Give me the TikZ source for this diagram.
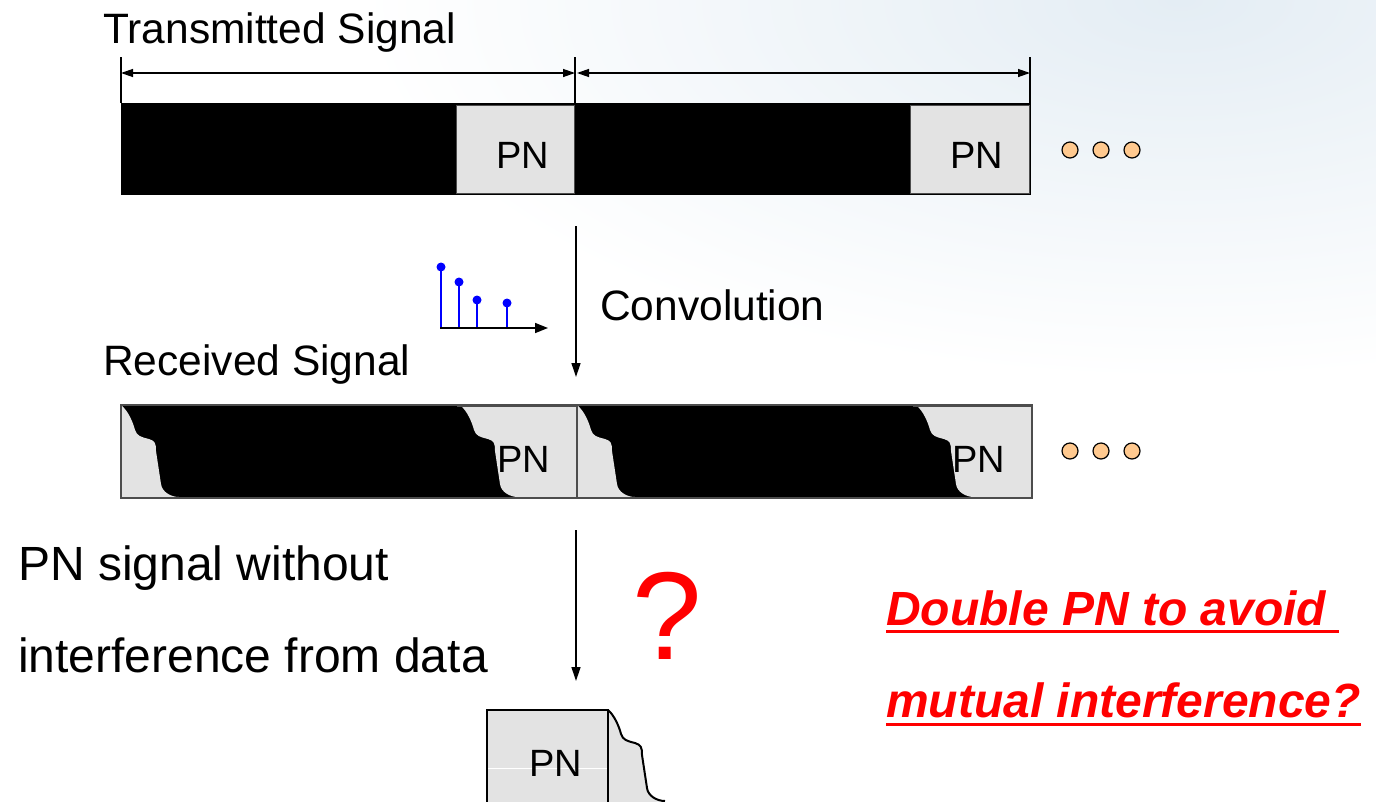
\documentclass[tikz,border=0pt]{standalone}
\usepackage{fontspec}
\setmainfont{Liberation Sans}
\usetikzlibrary{arrows.meta}

\definecolor{pnfill}{HTML}{E3E3E3}
\definecolor{dotfill}{HTML}{FFC98F}
\definecolor{haze}{HTML}{E4EDF4}
\definecolor{frame}{HTML}{4D4D4D}

\tikzset{
  txt/.style={inner sep=0pt, anchor=base west, font=\fontsize{42.5}{50}\selectfont},
  bigtxt/.style={inner sep=0pt, anchor=base west, font=\fontsize{48}{56}\selectfont},
  pnlabel/.style={inner sep=0pt, anchor=base west, font=\fontsize{38}{44}\selectfont},
  note/.style={inner sep=0pt, anchor=base west, text=red,
    font=\fontsize{48}{56}\selectfont\bfseries\itshape},
  uline/.style={draw=red, line width=3pt},
  dimline/.style={line width=1.3pt,
    {Triangle[length=12pt,width=8pt]}-{Triangle[length=12pt,width=8pt]}},
  tick/.style={line width=1.3pt},
  flow/.style={line width=1.3pt, -{Triangle[length=14pt,width=9pt]}},
  dot/.style={circle, draw=black, line width=1.2pt, fill=dotfill,
    minimum size=16pt, inner sep=0pt},
  stem/.style={draw=blue, line width=1.6pt},
  tap/.style={circle, fill=blue, minimum size=9pt, inner sep=0pt},
  % smeared leading edge of a block after the channel
  smear/.style={insert path={
      .. controls +(6,5) and +(-2,-8) .. ++(13,24)
      .. controls +(2,6) and +(-8,-2) .. ++(14,9)
      .. controls +(6,2) and +(0,-8) .. ++(7,12)
      -- ++(5,33)
      .. controls +(1,8) and +(-8,0) .. ++(18,13)}},
}

\begin{document}
\begin{tikzpicture}[x=1pt,y=-1pt]
\useasboundingbox (0,0) rectangle (1376,801);

% soft sky in the upper right
\begin{scope}
  \clip (0,0) rectangle (1376,801);
  \shade[inner color=haze, outer color=white] (1180,0) ellipse [x radius=820, y radius=380];
\end{scope}

% ---------- transmitted signal ----------
\node[txt] (ttx) at (103,43) {Transmitted Signal};

\coordinate (d0) at (121,73);
\coordinate (d1) at (575,73);
\coordinate (d1b) at (577,73);
\coordinate (d2) at (1030,73);
\draw[tick] (121,57) -- (121,103);
\draw[tick] (575,57) -- (575,103);
\draw[tick] (1030,57) -- (1030,103);
\draw[dimline] (d0) -- (d1);
\draw[dimline] (d1b) -- (d2);

\fill[black] (121,103) rectangle (1031,195);
\filldraw[fill=pnfill, draw=frame, line width=0.8pt] (456,105) rectangle (574,193);
\filldraw[fill=pnfill, draw=frame, line width=0.8pt] (910,105) rectangle (1029,193);
\node[pnlabel] (pn1) at (496,168) {PN};
\node[pnlabel] (pn2) at (950,168) {PN};

\node[dot] (a1) at (1070,150) {};
\node[dot] (a2) at (1101,150) {};
\node[dot] (a3) at (1132,150) {};

% ---------- channel ----------
\coordinate (c1a) at (576,226);
\coordinate (c1b) at (576,377);
\draw[flow] (c1a) -- (c1b);
\node[txt] (tconv) at (600,320) {Convolution};

\foreach \x/\y in {441/267,459/282,477/300,507/303}{
  \draw[stem] (\x,328) -- (\x,\y);
  \node[tap] at (\x,\y) {};
}
\coordinate (ax0) at (440,328);
\coordinate (ax1) at (548,328);
\draw[line width=1.5pt, -{Triangle[length=13pt,width=10pt]}] (ax0) -- (ax1);

% ---------- received signal ----------
\node[txt] (trx) at (103,375) {Received Signal};

\fill[black] (121,405) rectangle (1032,498);
\foreach \x/\r in {121/577, 577/1032}{
  \fill[pnfill] (\x+1,406) [smear] -- (\x+1,497) -- cycle;
  \fill[pnfill] (\x+340,406) [smear] -- (\r,497) -- (\r,406) -- cycle;
}
\draw[frame, line width=0.8pt] (457,406) -- (577,406);
\draw[frame, line width=0.8pt] (913,406) -- (1032,406);
\draw[frame, line width=1.3pt] (121,405) rectangle (1032,498);
\draw[frame, line width=1.3pt] (577,405) -- (577,498);
\node[pnlabel] (pn3) at (497,472) {PN};
\node[pnlabel] (pn4) at (952,472) {PN};

\node[dot] (b1) at (1070,451) {};
\node[dot] (b2) at (1101,451) {};
\node[dot] (b3) at (1132,451) {};

% ---------- extraction of the PN part ----------
\coordinate (c2a) at (576,530);
\coordinate (c2b) at (576,681);
\draw[flow] (c2a) -- (c2b);

\node[bigtxt] (tl1) at (18,580) {PN signal without};
\node[bigtxt] (tl2) at (18,672) {interference from data};

\node[inner sep=0pt, anchor=base west, text=red,
      font=\fontsize{125}{130}\selectfont] (qm) at (632,659) {?};

\fill[pnfill] (608,710) [smear] -- (608,806) -- cycle;
\draw[line width=2pt] (608,710) [smear];
\filldraw[fill=pnfill, draw=black, line width=2pt] (487,710) rectangle (608,806);
\draw[white, line width=1pt] (488,768) -- (607,768);
\node[pnlabel] (pn5) at (529,776) {PN};

% ---------- question ----------
\node[note] (n1) at (886,625) {Double PN to avoid};
\node[note] (n2) at (886,717) {mutual interference?};
\draw[uline] ([yshift=-6pt]n1.base west) -- ([xshift=13pt,yshift=-6pt]n1.base east);
\draw[uline] ([yshift=-7pt]n2.base west) -- ([yshift=-7pt]n2.base east);

\end{tikzpicture}
\end{document}
